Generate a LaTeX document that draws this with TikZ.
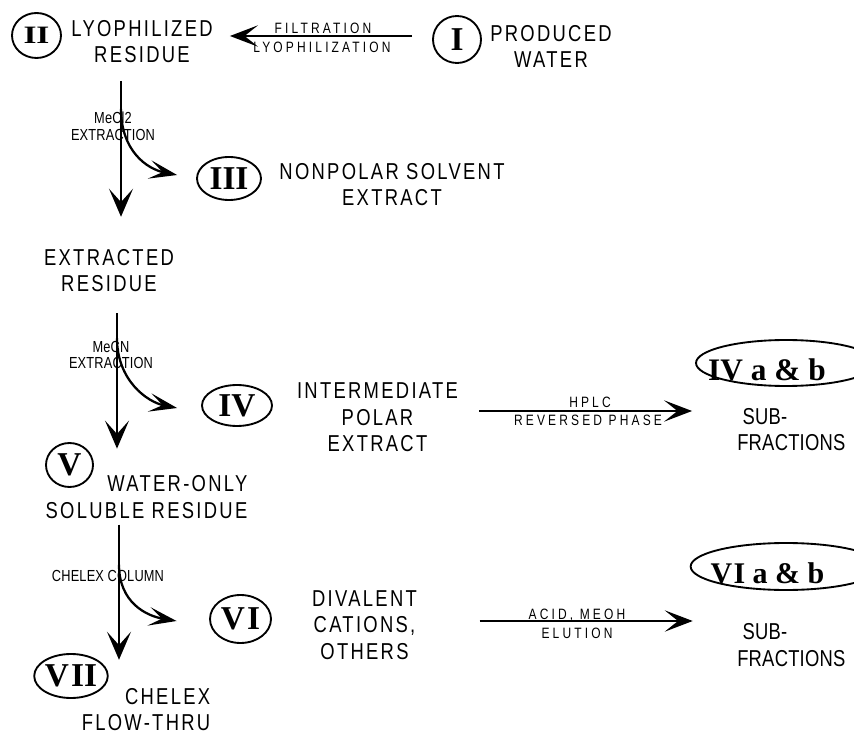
\documentclass[tikz,border=0pt]{standalone}
\usepackage{fontspec}
\setmainfont{Liberation Sans}[FakeStretch=0.8, LetterSpace=10]
\newfontfamily\hlblfont{Liberation Sans}[FakeStretch=0.8, LetterSpace=21]
\newfontfamily\vlblfont{Liberation Sans}[FakeStretch=0.8, LetterSpace=1]
\newfontfamily\tightfont{Liberation Sans}[FakeStretch=0.8, LetterSpace=1]
\newfontfamily\romfont{Liberation Serif}
\usetikzlibrary{arrows.meta,shapes.geometric,calc}
\begin{document}
\begin{tikzpicture}[x=0.75pt,y=-0.75pt,
  big/.style={font=\fontsize{17.25}{20}\selectfont, inner sep=0pt, align=center},
  subfr/.style={font=\tightfont\fontsize{17.25}{20}\selectfont, inner sep=0pt, align=left},
  hlbl/.style={font=\hlblfont\fontsize{11.25}{13}\selectfont, inner sep=0pt, align=center},
  vlbl/.style={font=\vlblfont\fontsize{12}{12.5}\selectfont, inner sep=0pt, align=center},
  rom/.style={draw, ellipse, line width=1.4pt, inner sep=0pt,
    font=\romfont\bfseries\fontsize{25}{25}\selectfont},
  arr/.style={line width=1.7pt, -{Stealth[length=21pt,width=16pt,inset=10pt]}},
  arrv/.style={line width=1.7pt, -{Stealth[length=21pt,width=18pt,inset=10pt]}},
  arrc/.style={line width=1.7pt, -{Stealth[length=21pt,width=14pt,inset=10pt]}}]
\useasboundingbox (0,0) rectangle (854,734);
\clip (0,0) rectangle (854,734);

% ellipses
\node[rom, minimum width=36pt, minimum height=35.25pt] (I) at (457,39.5) {I};
\node[rom, minimum width=36.75pt, minimum height=33.75pt] (II) at (36.5,35.5) {\scalebox{1}[0.75]{II}};
\node[rom, minimum width=48pt, minimum height=32.25pt] (III) at (229,178.5) {III};
\node[rom, minimum width=52.5pt, minimum height=30.75pt] (IV) at (237,405.5) {IV};
\node[rom, minimum width=35.25pt, minimum height=33pt] (V) at (69.5,465) {V};
\node[rom, minimum width=45.75pt, minimum height=36pt] (VI) at (240.5,619) {V\kern1.5pt I};
\node[rom, minimum width=52.5pt, minimum height=33pt] (VII) at (71,676) {V\kern1.5pt II};
\node[rom, minimum width=135pt, minimum height=34.5pt] (IVe) at (786,363) {};
\node[inner sep=0pt, font=\romfont\bfseries\fontsize{23.5}{23.5}\selectfont] (IVab) at (767,370) {IV a \& b};
\node[rom, minimum width=143pt, minimum height=35.25pt] (VIe) at (786,566.5) {};
\node[inner sep=0pt, font=\romfont\bfseries\fontsize{22.5}{22.5}\selectfont] (VIab) at (767.5,573) {V\kern1pt I a \& b};

% texts
\node[big] (It) at (551,46.5) {PRODUCED\\WATER};
\node[big] (IIt) at (142,41.5) {LYOPHILIZED\\RESIDUE};
\node[big] (IIIt) at (392,184.5) {NONPOLAR SOLVENT\\EXTRACT};
\node[big] (EXt) at (109,270.5) {EXTRACTED\\RESIDUE};
\node[big] (IVt) at (377.5,417.5) {INTERMEDIATE\\POLAR\\EXTRACT};
\node[big, align=right] (Vt) at (146.5,497) {WATER-ONLY\\SOLUBLE RESIDUE};
\node[big] (VIt) at (364.5,625) {DIVALENT\\CATIONS,\\OTHERS};
\node[big, align=right] (VIIt) at (146,709.5) {CHELEX\\FLOW-THRU};
\node[subfr, anchor=west] (IVsub) at (737,429.5) {\hspace*{4pt}SUB-\\FRACTIONS};
\node[subfr, anchor=west] (VIsub) at (737,645) {\hspace*{4pt}SUB-\\FRACTIONS};

% connector labels
\node[hlbl, anchor=base] (l1a) at (323,34) {FILTRATION};
\node[hlbl, anchor=north] (l1b) at (322,42) {LYOPHILIZATION};
\node[vlbl] (l2) at (113,126) {MeCl2\\EXTRACTION};
\node[vlbl] (l3) at (111,355) {MeCN\\EXTRACTION};
\node[vlbl] (l4) at (108,575.5) {CHELEX COLUMN};
\node[hlbl, anchor=base] (l5a) at (590,408) {HPLC};
\node[hlbl, anchor=north] (l5b) at (588,415) {REVERSED PHASE};
\node[hlbl, anchor=base] (l6a) at (577,619) {ACID, MEOH};
\node[hlbl, anchor=north] (l6b) at (577,628) {ELUTION};

% connectors
\draw[arr] ([shift={(-20,-3.5)}]I.west) -- ([shift={(168,0.5)}]II.east);

\path ([shift={(84.5,22)}]II.south) coordinate (s2);
\draw[arrv, shorten >=24pt] (s2) -- (s2 |- EXt.north);
\draw[arrc] ([shift={(0,28)}]s2) .. controls +(0,42) and +(-30,-6) .. ([shift={(-19,-3.5)}]III.west);

\path ([shift={(8,21)}]EXt.south) coordinate (s4);
\draw[arrv, shorten >=20pt] (s4) -- (s4 |- Vt.north);
\draw[arrc] ([shift={(0,25)}]s4) .. controls +(0,42) and +(-30,-6) .. ([shift={(-24,2.5)}]IV.west);

\path ([shift={(-27.5,6)}]Vt.south) coordinate (s6);
\draw[arrv, shorten >=21pt] (s6) -- (s6 |- VIIt.north);
\draw[arrc] ([shift={(0,40)}]s6) .. controls +(0,38) and +(-30,-5) .. ([shift={(-32.5,2)}]VI.west);

\path ([shift={(-216,48)}]IVe.west) coordinate (s8);
\draw[arr, shorten >=2.25pt] (s8) -- (s8 -| IVe.west);

\path ([shift={(-210,54.5)}]VIe.west) coordinate (s9);
\draw[arr, shorten >=-2.25pt] (s9) -- (s9 -| VIe.west);
\end{tikzpicture}
\end{document}
